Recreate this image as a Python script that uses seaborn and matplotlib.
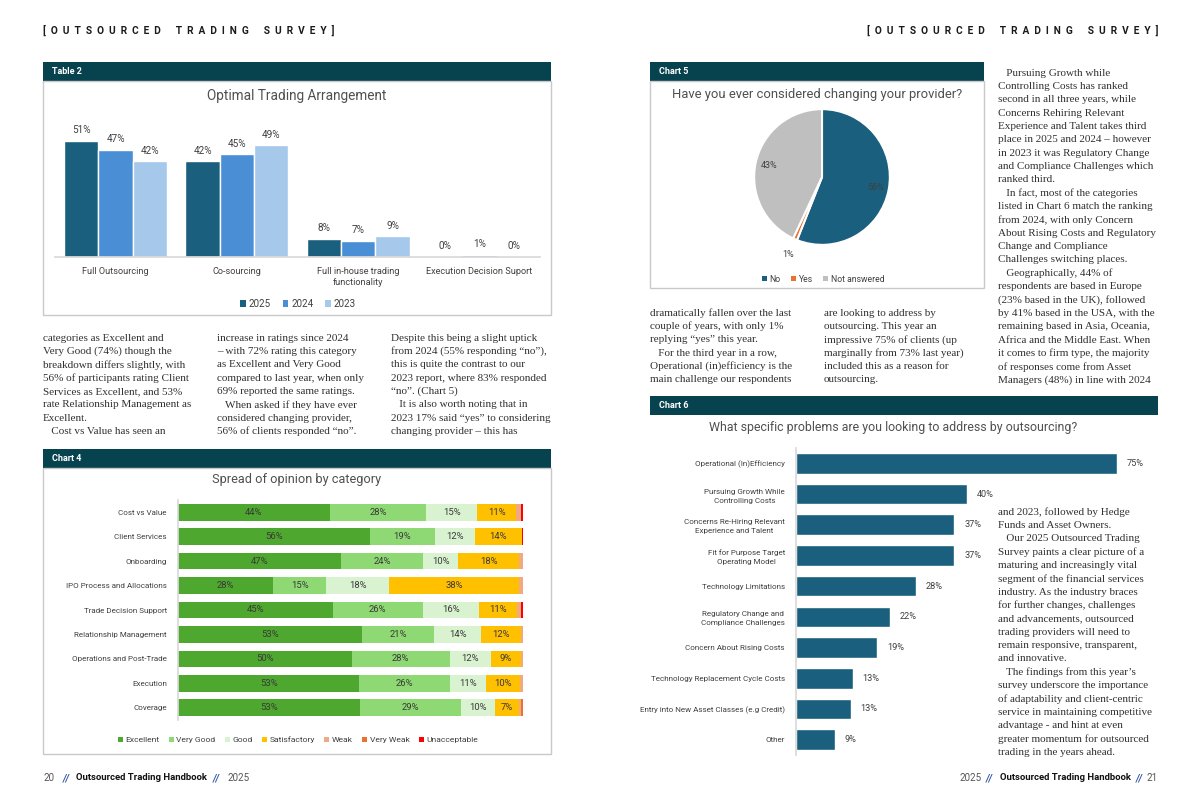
import matplotlib
matplotlib.use("Agg")
import matplotlib.pyplot as plt
from matplotlib.patches import Rectangle, Patch
import numpy as np
import pandas as pd
import seaborn as sns

# page size in pixels
W, H = 1200, 809

# ---------------- data ----------------
# Table 2 - optimal trading arrangement
arrangements = ["Full Outsourcing", "Co-sourcing", "Full in-house trading\nfunctionality",
                "Execution Decision Suport"]
years = ["2025", "2024", "2023"]
pct_2025 = [51, 42, 8, 0]
pct_2024 = [47, 45, 7, 1]
pct_2023 = [42, 49, 9, 0]

# Chart 4 - spread of opinion by category (share of responses, %)
opinion_cats = ["Cost vs Value", "Client Services", "Onboarding", "IPO Process and Allocations",
                "Trade Decision Support", "Relationship Management", "Operations and Post-Trade",
                "Execution", "Coverage"]
ratings = ["Excellent", "Very Good", "Good", "Satisfactory", "Weak", "Very Weak", "Unacceptable"]
excellent = [44.0, 55.7, 47.2, 27.6, 44.8, 53.3, 50.3, 52.6, 52.8]
very_good = [28.0, 18.7, 23.8, 15.4, 26.1, 21.0, 28.4, 26.2, 29.3]
good = [14.8, 11.6, 10.2, 18.3, 16.4, 13.6, 11.9, 10.6, 9.9]
satisfactory = [11.2, 13.6, 17.7, 37.6, 11.1, 11.6, 8.9, 9.6, 6.9]
weak = [1.4, 0.0, 1.1, 1.1, 1.1, 0.5, 0.5, 1.0, 0.5]
very_weak = [0.0, 0.0, 0.0, 0.0, 0.0, 0.0, 0.0, 0.0, 0.6]
unacceptable = [0.6, 0.4, 0.0, 0.0, 0.5, 0.0, 0.0, 0.0, 0.0]

# Chart 5 - considered changing provider
answers = ["No", "Yes", "Not answered"]
answer_pct = [56, 1, 43]

# Chart 6 - problems addressed by outsourcing
problems = ["Operational (In)Efficiency", "Pursuing Growth While\nControlling Costs",
            "Concerns Re-Hiring Relevant\nExperience and Talent", "Fit for Purpose Target\nOperating Model",
            "Technology Limitations", "Regulatory Change and\nCompliance Challenges",
            "Concern About Rising Costs", "Technology Replacement Cycle Costs",
            "Entry into New Asset Classes (e.g Credit)", "Other"]
problem_pct = [75, 40, 37, 37, 28, 22, 19, 13.3, 12.8, 9]

# body text, one string per printed line
col_left_1 = ["categories as Excellent and", "Very Good (74%) though the",
              "breakdown differs slightly, with", "56% of participants rating Client",
              "Services as Excellent, and 53%", "rate Relationship Management as",
              "Excellent.", "   Cost vs Value has seen an"]
col_left_2 = ["increase in ratings since 2024", "\u2013 with 72% rating this category",
              "as Excellent and Very Good", "compared to last year, when only",
              "69% reported the same ratings.", "   When asked if they have ever",
              "considered changing provider,", "56% of clients responded \u201cno\u201d."]
col_left_3 = ["Despite this being a slight uptick", "from 2024 (55% responding \u201cno\u201d),",
              "this is quite the contrast to our", "2023 report, where 83% responded",
              "\u201cno\u201d. (Chart 5)", "   It is also worth noting that in",
              "2023 17% said \u201cyes\u201d to considering", "changing provider \u2013 this has"]
col_mid_1 = ["dramatically fallen over the last", "couple of years, with only 1%",
             "replying \u201cyes\u201d this year.", "   For the third year in a row,",
             "Operational (in)efficiency is the", "main challenge our respondents"]
col_mid_2 = ["are looking to address by", "outsourcing. This year an",
             "impressive 75% of clients (up", "marginally from 73% last year)",
             "included this as a reason for", "outsourcing."]
col_right_top = ["   Pursuing Growth while", "Controlling Costs has ranked",
                 "second in all three years, while", "Concerns Rehiring Relevant",
                 "Experience and Talent takes third", "place in 2025 and 2024 \u2013 however",
                 "in 2023 it was Regulatory Change", "and Compliance Challenges which",
                 "ranked third.", "   In fact, most of the categories",
                 "listed in Chart 6 match the ranking", "from 2024, with only Concern",
                 "About Rising Costs and Regulatory", "Change and Compliance",
                 "Challenges switching places.", "   Geographically, 44% of",
                 "respondents are based in Europe", "(23% based in the UK), followed",
                 "by 41% based in the USA, with the", "remaining based in Asia, Oceania,",
                 "Africa and the Middle East. When", "it comes to firm type, the majority",
                 "of responses come from Asset", "Managers (48%) in line with 2024"]
col_right_bottom = ["and 2023, followed by Hedge", "Funds and Asset Owners.",
                    "   Our 2025 Outsourced Trading", "Survey paints a clear picture of a",
                    "maturing and increasingly vital", "segment of the financial services",
                    "industry. As the industry braces", "for further changes, challenges",
                    "and advancements, outsourced", "trading providers will need to",
                    "remain responsive, transparent,", "and innovative.",
                    "   The findings from this year\u2019s", "survey underscore the importance",
                    "of adaptability and client-centric", "service in maintaining competitive",
                    "advantage - and hint at even", "greater momentum for outsourced",
                    "trading in the years ahead."]

# ---------------- style ----------------
TEAL = "#07434e"
year_colors = ["#1a5f7d", "#4a8fd6", "#a6c8ea"]
rating_colors = ["#4ea72e", "#8ed973", "#d9f2d0", "#ffc000", "#f1a983", "#e97132", "#ff0000"]
answer_colors = ["#1a5f7d", "#e97132", "#bfbfbf"]
BAR_BLUE = "#1a5f7d"
LABEL = "#404040"
TITLE = "#505050"
BODY = "#303030"

sns.set_theme(style="white")
plt.rcParams["font.family"] = ["Roboto", "DejaVu Sans"]
SERIF = ["Liberation Serif", "DejaVu Serif"]
LINE = 13.35


def rect(x, y, w, h):
    # pixel box (top-left origin) -> figure fraction
    return [x / W, 1 - (y + h) / H, w / W, h / H]


fig = plt.figure(figsize=(W / 100, H / 100), dpi=100)
page = fig.add_axes([0, 0, 1, 1], zorder=0)
page.set_xlim(0, W)
page.set_ylim(H, 0)
page.axis("off")

# running heads
words = ["OUTSOURCED", "TRADING", "SURVEY"]
head = "[  " + "      ".join("  ".join(w) for w in words) + "  ]"
page.text(43, 30, head, fontsize=7.3, fontweight="bold", color="#1a1a1a", va="center", ha="left")
page.text(1158, 30, head, fontsize=7.3, fontweight="bold", color="#1a1a1a", va="center", ha="right")


def panel(x, y, w, title, box_h=None):
    page.add_patch(Rectangle((x, y), w, 19, color=TEAL, lw=0))
    page.text(x + 9, y + 9.5, title, color="white", fontsize=6.5, fontweight="bold", va="center")
    if box_h:
        page.add_patch(Rectangle((x, y + 19), w, box_h, fill=False, edgecolor="#c9c9c9", lw=1))


panel(43, 62, 508, "Table 2", 234)
panel(43, 449, 508, "Chart 4", 286)
panel(650, 62, 334, "Chart 5", 207)
panel(650, 396, 508, "Chart 6")

# body columns
for lines, x, y in [(col_left_1, 43, 338), (col_left_2, 217, 338), (col_left_3, 391, 338),
                    (col_mid_1, 650, 313), (col_mid_2, 824, 313),
                    (col_right_top, 998, 73), (col_right_bottom, 998, 512)]:
    for i, line in enumerate(lines):
        page.text(x, y + i * LINE, line, family=SERIF, fontsize=8.0, color=BODY, va="center")

# footers
page.text(43, 778, "20", fontsize=7, color="#555555", va="center")
page.text(63, 778, "//", fontsize=7, color="#3056a8", fontweight="bold", style="italic", va="center")
page.text(76, 778, "Outsourced Trading Handbook", fontsize=6.8, fontweight="bold", color="#111111", va="center")
page.text(213, 778, "//", fontsize=7, color="#3056a8", fontweight="bold", style="italic", va="center")
page.text(227, 778, "2025", fontsize=7, color="#555555", va="center")
page.text(960, 778, "2025", fontsize=7, color="#555555", va="center")
page.text(986, 778, "//", fontsize=7, color="#3056a8", fontweight="bold", style="italic", va="center")
page.text(1000, 778, "Outsourced Trading Handbook", fontsize=6.8, fontweight="bold", color="#111111", va="center")
page.text(1136, 778, "//", fontsize=7, color="#3056a8", fontweight="bold", style="italic", va="center")
page.text(1158, 778, "21", fontsize=7, color="#555555", va="center", ha="right")


def legend_below(ax, labels, colors, cx, cy, fs=6, spacing=1.2):
    handles = [Patch(facecolor=c, edgecolor="none") for c in colors]
    ax.legend(handles, labels, loc="center", bbox_to_anchor=(cx / W, 1 - cy / H),
              bbox_transform=fig.transFigure, ncol=len(labels), frameon=False, fontsize=fs,
              handlelength=0.6, handleheight=0.6, handletextpad=0.3, columnspacing=spacing,
              labelcolor=LABEL)


# ---------------- Table 2 ----------------
arr_df = pd.DataFrame({
    "arrangement": arrangements * 3,
    "year": [y for y in years for _ in arrangements],
    "pct": pct_2025 + pct_2024 + pct_2023,
})
ax1 = fig.add_axes(rect(55, 120, 485, 137), zorder=2)
ax1.patch.set_alpha(0)
sns.barplot(data=arr_df, x="arrangement", y="pct", hue="year", hue_order=years,
            palette=year_colors, width=0.85, saturation=1, errorbar=None, legend=False, ax=ax1)
for c in ax1.containers:
    ax1.bar_label(c, fmt="%.0f%%", padding=4, fontsize=7.2, color=LABEL)
ax1.set_ylim(0, 60)
ax1.set_xlim(-0.5, 3.5)
ax1.set(xlabel="", ylabel="", yticks=[])
sns.despine(ax=ax1, left=True)
ax1.spines["bottom"].set_color("#d9d9d9")
ax1.tick_params(axis="x", length=0, pad=7, labelsize=6.6, labelcolor=LABEL)
for lab in ax1.get_xticklabels():
    lab.set_linespacing(1.3)
page.text(297, 96, "Optimal Trading Arrangement", fontsize=9.8, color=TITLE, ha="center", va="center")
legend_below(ax1, years, year_colors, 298, 304, fs=7)

# ---------------- Chart 4 ----------------
ax2 = fig.add_axes(rect(178, 500, 345, 220), zorder=2)
ax2.patch.set_alpha(0)
segments = [excellent, very_good, good, satisfactory, weak, very_weak, unacceptable]
ypos = np.arange(len(opinion_cats))
left = np.zeros(len(opinion_cats))
for vals, name, col in zip(segments, ratings, rating_colors):
    vals = np.array(vals)
    bars = ax2.barh(ypos, vals, left=left, height=0.68, color=col, label=name, lw=0)
    ax2.bar_label(bars, labels=[f"{v:.0f}%" if v >= 5 else "" for v in vals],
                  label_type="center", fontsize=6.8, color="#3a3a3a")
    left += vals
ax2.set_xlim(0, 100)
ax2.set_ylim(len(opinion_cats) - 0.5, -0.5)
ax2.set_yticks(ypos, opinion_cats)
ax2.set_xticks([])
sns.despine(ax=ax2, bottom=True)
ax2.spines["left"].set_color("#d9d9d9")
ax2.tick_params(axis="y", length=0, pad=8, labelsize=5.8, labelcolor=LABEL)
page.text(297, 479, "Spread of opinion by category", fontsize=9.2, color=TITLE, ha="center", va="center")
legend_below(ax2, ratings, rating_colors, 298, 740, fs=6.1, spacing=1.1)

# ---------------- Chart 5 ----------------
ax3 = fig.add_axes(rect(727, 82, 190, 190), zorder=2)
wedges, texts, autotexts = ax3.pie(answer_pct, colors=answer_colors, startangle=90, counterclock=False,
                                   autopct="%.0f%%", pctdistance=0.8,
                                   wedgeprops=dict(edgecolor="white", linewidth=1.5),
                                   textprops=dict(color=LABEL, fontsize=6.5))
for w, t, v in zip(wedges, autotexts, answer_pct):
    if v < 5:
        theta = np.deg2rad((w.theta1 + w.theta2) / 2)
        t.set_position((1.25 * np.cos(theta), 1.25 * np.sin(theta)))
ax3.set_xlim(-1.4, 1.4)
ax3.set_ylim(-1.4, 1.4)
ax3.set_aspect("equal")
page.text(817, 94, "Have you ever considered changing your provider?", fontsize=9.4, color=TITLE,
          ha="center", va="center")
legend_below(ax3, answers, answer_colors, 823, 279, fs=6.2)

# ---------------- Chart 6 ----------------
ax4 = fig.add_axes(rect(796, 448, 342.4, 307), zorder=2)
ax4.patch.set_alpha(0)
sns.barplot(x=problem_pct, y=problems, orient="h", color=BAR_BLUE, saturation=1, width=0.67, ax=ax4)
ax4.bar_label(ax4.containers[0], fmt="%.0f%%", padding=7, fontsize=6.6, color=LABEL)
ax4.set_xlim(0, 80)
ax4.set_ylim(len(problems) - 0.5, -0.5)
ax4.set(xlabel="", ylabel="", xticks=[])
sns.despine(ax=ax4, bottom=True)
ax4.spines["left"].set_color("#d9d9d9")
ax4.tick_params(axis="y", length=0, pad=8, labelsize=5.8, labelcolor=LABEL)
for lab in ax4.get_yticklabels():
    lab.set_multialignment("center")
    lab.set_linespacing(1.6)
page.text(893, 427, "What specific problems are you looking to address by outsourcing?", fontsize=8.9,
          color=TITLE, ha="center", va="center")

fig.savefig("out.png", dpi=100)
